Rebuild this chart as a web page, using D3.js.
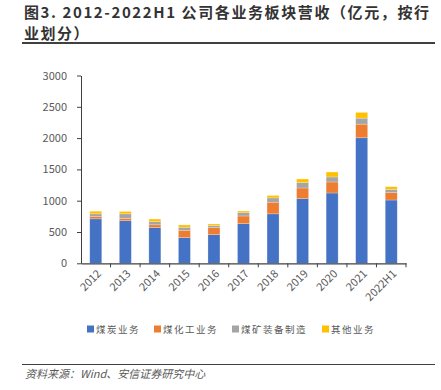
<!DOCTYPE html>
<html>
<head>
<meta charset="utf-8">
<script src="https://cdn.jsdelivr.net/npm/d3@7/dist/d3.min.js"></script>
<style>
  html, body { margin: 0; padding: 0; background: #fff; }
  svg { display: block; }
</style>
</head>
<body>
<svg id="svg0" width="441" height="390"></svg>
<script>
var width = 441;
var height = 390;

// data (亿元)
var years = ['2012', '2013', '2014', '2015', '2016', '2017', '2018', '2019', '2020', '2021', '2022H1'];
var coal = [710, 680, 570, 410, 457, 633, 790, 1032, 1123, 2005, 1011];
var chem = [35, 38, 45, 118, 112, 123, 186, 171, 176, 218, 117];
var equip = [45, 72, 50, 48, 32, 52, 69, 85, 80, 96, 54];
var other = [42, 38, 42, 37, 27, 27, 38, 59, 79, 91, 42];
var seriesNames = ['煤炭业务', '煤化工业务', '煤矿装备制造', '其他业务'];
var colors = ['#4472C4', '#ED7D31', '#A5A5A5', '#FFC000'];
var yTicks = [0, 500, 1000, 1500, 2000, 2500, 3000];

var font = '"Noto Sans CJK SC", "Liberation Sans", Arial, sans-serif';

var svg0 = d3.select('#svg0');

// title, two lines
svg0.append('text')
    .attr('x', 24)
    .attr('y', 18)
    .attr('font-family', font)
    .attr('font-weight', 'bold')
    .attr('font-size', 15)
    .attr('fill', '#333')
    .attr('textLength', 405)
    .attr('lengthAdjust', 'spacing')
    .text('图3. 2012-2022H1 公司各业务板块营收（亿元，按行');

svg0.append('text')
    .attr('x', 24)
    .attr('y', 39)
    .attr('font-family', font)
    .attr('font-weight', 'bold')
    .attr('font-size', 15)
    .attr('fill', '#333')
    .attr('letter-spacing', 1.5)
    .text('业划分）');

svg0.append('line')
    .attr('x1', 22).attr('x2', 435)
    .attr('y1', 43).attr('y2', 43)
    .attr('stroke', '#404040')
    .attr('stroke-width', 2);

// scales
var x = d3.scaleBand()
    .domain(years)
    .range([81, 406])
    .paddingInner(0.594)
    .paddingOuter(0.297);

var y = d3.scaleLinear()
    .domain([0, 3000])
    .range([263.3, 75.5]);

// stacked bars
var table = years.map(function(d, i) {
    return { year: d, s0: coal[i], s1: chem[i], s2: equip[i], s3: other[i] };
});
var stack = d3.stack().keys(['s0', 's1', 's2', 's3']);
var layers = stack(table);

svg0.append('g')
    .selectAll('g')
    .data(layers)
    .join('g')
    .attr('fill', function(d, i) { return colors[i]; })
    .selectAll('rect')
    .data(function(d) { return d; })
    .join('rect')
    .attr('x', function(d) { return x(d.data.year); })
    .attr('y', function(d) { return y(d[1]); })
    .attr('width', x.bandwidth())
    .attr('height', function(d) { return y(d[0]) - y(d[1]); })
    .attr('stroke', '#fff')
    .attr('stroke-opacity', 0.4)
    .attr('stroke-width', 0.6);

// y axis
var yAxis = svg0.append('g')
    .attr('transform', 'translate(81,0)')
    .call(d3.axisLeft(y).tickValues(yTicks).tickFormat(d3.format('d')).tickSize(4).tickPadding(10).tickSizeOuter(0));
yAxis.select('.domain').attr('stroke', '#404040');
yAxis.selectAll('.tick line').attr('stroke', '#404040');
yAxis.selectAll('.tick text')
    .attr('font-family', font)
    .attr('font-size', 11)
    .attr('fill', '#595959');

// x axis
var xAxis = svg0.append('g')
    .attr('transform', 'translate(0,' + y(0) + ')')
    .call(d3.axisBottom(x).tickSize(0).tickSizeOuter(0));
xAxis.select('.domain').attr('stroke', '#404040').attr('stroke-width', 1.2);
xAxis.selectAll('.tick text')
    .attr('font-family', font)
    .attr('font-size', 11)
    .attr('fill', '#595959')
    .attr('text-anchor', 'end')
    .attr('dy', null)
    .attr('transform', 'translate(4,9) rotate(-45)');

// ticks between categories
xAxis.selectAll('.sep')
    .data(years)
    .join('line')
    .attr('class', 'sep')
    .attr('x1', function(d) { return x(d) + x.bandwidth() + x.step() * x.paddingInner() / 2; })
    .attr('x2', function(d) { return x(d) + x.bandwidth() + x.step() * x.paddingInner() / 2; })
    .attr('y1', 0)
    .attr('y2', 4)
    .attr('stroke', '#404040');

// legend
var legendX = [87, 154, 232, 322];
var legend = svg0.append('g')
    .selectAll('g')
    .data(seriesNames)
    .join('g')
    .attr('transform', function(d, i) { return 'translate(' + legendX[i] + ',329)'; });
legend.append('rect')
    .attr('x', 0).attr('y', -3.5)
    .attr('width', 7).attr('height', 7)
    .attr('fill', function(d, i) { return colors[i]; });
legend.append('text')
    .attr('x', 9)
    .attr('y', 4)
    .attr('font-family', font)
    .attr('font-size', 9.5)
    .attr('letter-spacing', 1.5)
    .attr('fill', '#595959')
    .text(function(d) { return d; });

// source
svg0.append('line')
    .attr('x1', 22).attr('x2', 435)
    .attr('y1', 364.5).attr('y2', 364.5)
    .attr('stroke', '#404040')
    .attr('stroke-width', 1.2);

svg0.append('text')
    .attr('x', 25)
    .attr('y', 378)
    .attr('font-family', font)
    .attr('font-size', 11)
    .attr('font-style', 'italic')
    .attr('fill', '#595959')
    .text('资料来源：Wind、安信证券研究中心');
</script>
</body>
</html>
